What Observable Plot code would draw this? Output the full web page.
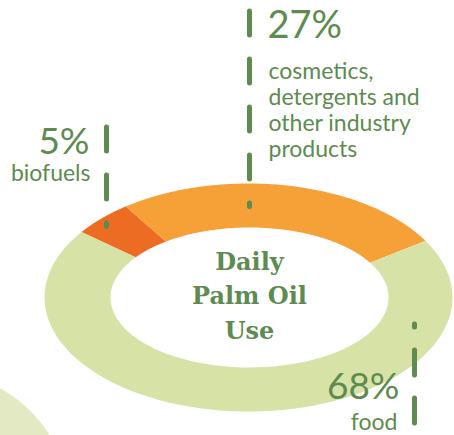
<!DOCTYPE html>
<html>
<head>
<meta charset="utf-8">
<script src="https://cdn.jsdelivr.net/npm/d3@7"></script>
<script src="https://cdn.jsdelivr.net/npm/@observablehq/plot@0.6"></script>
<style>
  html, body { margin: 0; padding: 0; background: #ffffff; }
  #chart svg { display: block; }
</style>
</head>
<body>
<div id="chart"></div>
<script>
// ---- data ----
const categories = ["biofuels", "cosmetics", "food"];
const shares = [5, 27, 68];
const pctLabels = ["5%", "27%", "68%"];
const descLabels = ["biofuels", "cosmetics,\ndetergents and\nother industry\nproducts", "food"];
const centerTitle = "Daily\nPalm Oil\nUse";

// ---- geometry (tilted donut) ----
const outer = {cx: 248, cy: 297, rx: 204, ry: 114};
const inner = {cx: 249, cy: 297, rx: 139, ry: 70};
const startDeg = 305; // clockwise from 12 o'clock
const total = d3.sum(shares);

const slicePts = [];
let acc = 0;
categories.forEach((c, i) => {
  const a0 = (startDeg + acc / total * 360) * Math.PI / 180;
  acc += shares[i];
  const a1 = (startDeg + acc / total * 360) * Math.PI / 180;
  const n = 80;
  for (let k = 0; k <= n; k++) {
    const a = a0 + (a1 - a0) * k / n;
    slicePts.push({cat: c, x: outer.cx + outer.rx * Math.sin(a), y: outer.cy - outer.ry * Math.cos(a)});
  }
  for (let k = n; k >= 0; k--) {
    const a = a0 + (a1 - a0) * k / n;
    slicePts.push({cat: c, x: inner.cx + inner.rx * Math.sin(a), y: inner.cy - inner.ry * Math.cos(a)});
  }
});

const green = "#5d8b50";
const labelFont = "Lato, 'Open Sans', sans-serif";

const leadersTop = [
  {cat: "biofuels", x: 106, y1: 126.5, y2: 226},
  {cat: "cosmetics", x: 249, y1: 10.5, y2: 206}
];
const leadersBottom = [
  {cat: "food", x: 414, y1: 422.5, y2: 323.5}
];

const pctPos = [
  {x: 89, y: 153, anchor: "end"},
  {x: 267, y: 37, anchor: "start"},
  {x: 399, y: 398, anchor: "end"}
];
const descPos = [
  {x: 90, y: 180, anchor: "end"},
  {x: 268, y: 156, anchor: "start"},
  {x: 397, y: 429, anchor: "end"}
];

const pctData = categories.map((c, i) => ({cat: c, label: pctLabels[i], ...pctPos[i]}));
const descData = categories.map((c, i) => ({cat: c, label: descLabels[i], ...descPos[i]}));

const linkStyle = {x1: "x", x2: "x", y1: "y1", y2: "y2", stroke: green, strokeWidth: 5, strokeLinecap: "round"};

const chart = Plot.plot({
  width: 454,
  height: 435,
  margin: 0,
  x: {domain: [0, 454], range: [0, 454], axis: null},
  y: {domain: [0, 435], range: [0, 435], axis: null},
  color: {domain: categories, range: ["#ec6c23", "#f5a138", "#d7e2a7"]},
  marks: [
    Plot.dot([{x: -60, y: 500}], {x: "x", y: "y", r: 127, fill: "#e2e9c3", stroke: null}),
    Plot.line(slicePts, {x: "x", y: "y", z: "cat", fill: "cat", stroke: null, curve: "linear-closed"}),
    Plot.link(leadersTop, {...linkStyle, strokeDasharray: "24 24"}),
    Plot.link(leadersBottom, {...linkStyle, strokeDasharray: "25 23"}),
    Plot.text(pctData.filter(d => d.anchor === "end"), {x: "x", y: "y", text: "label", textAnchor: "end",
      lineAnchor: "bottom", fontSize: 37, fontWeight: 400, fontFamily: labelFont, fill: green}),
    Plot.text(pctData.filter(d => d.anchor === "start"), {x: "x", y: "y", text: "label", textAnchor: "start",
      lineAnchor: "bottom", fontSize: 38, fontWeight: 400, fontFamily: labelFont, fill: green}),
    Plot.text(descData.filter(d => d.anchor === "end"), {x: "x", y: "y", text: "label", textAnchor: "end",
      lineAnchor: "bottom", fontSize: 23, fontWeight: 400, fontFamily: labelFont, fill: green, lineHeight: 1.13}),
    Plot.text(descData.filter(d => d.anchor === "start"), {x: "x", y: "y", text: "label", textAnchor: "start",
      lineAnchor: "bottom", fontSize: 23, fontWeight: 400, fontFamily: labelFont, fill: green, lineHeight: 1.13}),
    Plot.text([centerTitle], {x: () => 249, y: () => 338, text: d => d, textAnchor: "middle",
      lineAnchor: "bottom", fontSize: 24, fontWeight: "bold", fontFamily: "'DejaVu Serif', serif",
      fill: green, lineHeight: 1.42})
  ]
});
document.getElementById("chart").appendChild(chart);
</script>
</body>
</html>
